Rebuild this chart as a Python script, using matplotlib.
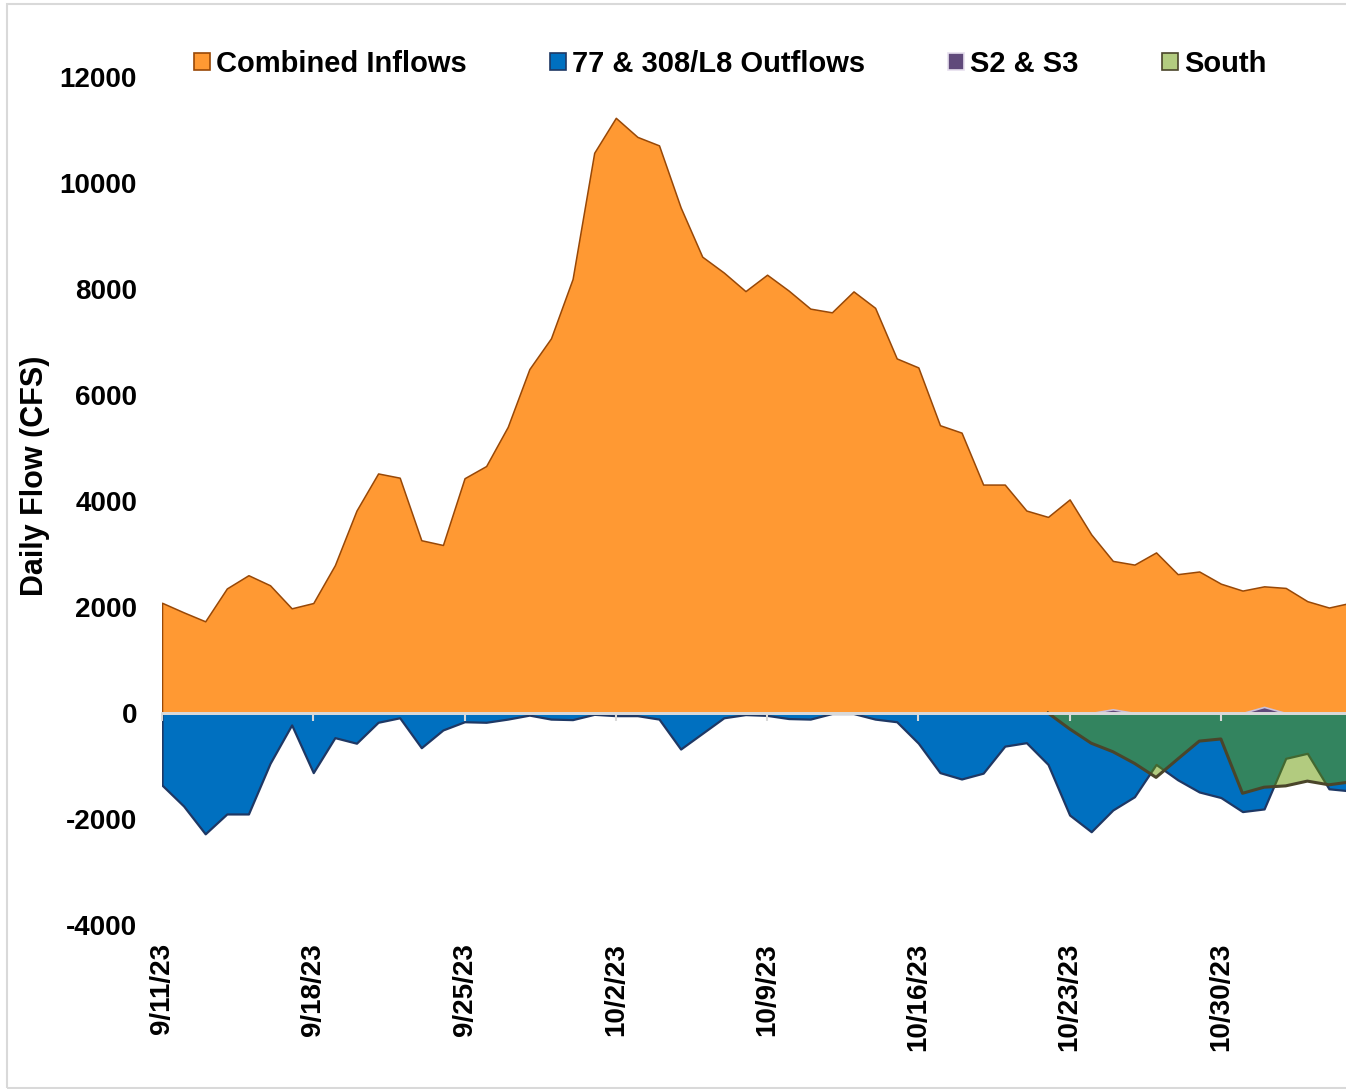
import matplotlib
matplotlib.use("Agg")
import matplotlib.pyplot as plt
from matplotlib.patches import Patch, Rectangle
import numpy as np
import pandas as pd

plt.rcParams['font.family'] = ['Liberation Sans', 'DejaVu Sans']
plt.rcParams['font.weight'] = 'bold'

# daily series, 9/11/23 .. 11/5/23
dates = pd.date_range('2023-09-11', '2023-11-05', freq='D')
inflows = [2080, 1900, 1730, 2350, 2600, 2410, 1975, 2075, 2790, 3820,
           4520, 4440, 3260, 3170, 4430, 4660, 5400, 6490, 7070, 8190,
           10570, 11230, 10870, 10710, 9540, 8610, 8310, 7960, 8270, 7970,
           7630, 7560, 7955, 7645, 6690, 6520, 5430, 5290, 4310, 4310,
           3820, 3700, 4030, 3370, 2870, 2800, 3030, 2620, 2670, 2440,
           2310, 2390, 2360, 2110, 1990, 2080]
outflows = [-1360, -1755, -2280, -1905, -1905, -950, -225, -1125, -465, -570,
            -175, -90, -655, -320, -165, -175, -115, -40, -115, -125,
            -25, -50, -50, -115, -680, -385, -90, -30, -45, -105,
            -115, -10, -10, -115, -165, -570, -1125, -1245, -1135, -625,
            -560, -970, -1925, -2240, -1830, -1580, -970, -1260, -1490, -1595,
            -1860, -1810, -855, -760, -1430, -1470]
s2_s3 = [0] * 44 + [70] + [0] * 6 + [115] + [0] * 4
south = [0] * 42 + [-300, -570, -730, -950, -1215, -870, -530, -490,
                    -1515, -1400, -1375, -1285, -1355, -1300]

yticks = np.arange(-4000, 12001, 2000)

days = np.asarray((dates - dates[0]).days, dtype=float)
tick_days = days[::7][:8]
tick_labels = [f"{d.month}/{d.day}/{d:%y}" for d in dates[::7][:8]]

# the South outline only starts where the series leaves zero
south_arr = np.array(south, dtype=float)
first = max(int(np.argmax(south_arr != 0)) - 1, 0)

W, H = 1346, 1089
fig = plt.figure(figsize=(W / 100, H / 100), dpi=100)
ax = fig.add_axes([162 / W, 1 - 925 / H, 1 - 162 / W, (925 - 77) / H])

ax.fill_between(days, 0, inflows, facecolor='#FF9933', edgecolor='#984807',
                linewidth=1.1, zorder=1)
ax.fill_between(days, 0, outflows, facecolor='#0070C0', edgecolor='#1F3864',
                linewidth=1.6, zorder=2)
ax.fill_between(days, 0, s2_s3, facecolor='#604A7B', edgecolor='#CCC1DA',
                linewidth=1.2, zorder=3)
ax.fill_between(days, 0, south, facecolor=(0.4, 0.6, 0.0, 0.5), edgecolor='none',
                zorder=4)
ax.plot(days[first:], south_arr[first:], color='#4A452A', linewidth=2.2, zorder=5)
ax.axhline(0, color='#D9D9D9', linewidth=2, zorder=10)

ax.set_xlim(0, 54.79)
ax.set_ylim(-4000, 12000)
ax.set_yticks(yticks)
ax.set_yticklabels([str(v) for v in yticks])
ax.set_xticks(tick_days)
ax.set_xticklabels(tick_labels, rotation=90)
ax.tick_params(axis='both', length=0, labelsize=20)
ax.tick_params(axis='y', pad=18)
ax.tick_params(axis='x', pad=13)
for s in ax.spines.values():
    s.set_visible(False)
ax.patch.set_visible(False)

ax.set_ylabel('Daily Flow (CFS)', fontsize=22, fontweight='bold')
ax.yaxis.set_label_coords(-0.095, 0.5295)

# weekly tick marks hanging from the zero line
sec = ax.secondary_xaxis(0, transform=ax.transData)
sec.set_xticks(tick_days)
sec.tick_params(axis='x', labelbottom=False, length=6, width=1.5,
                color='#D9D9D9', direction='out')
sec.spines['bottom'].set_color('#D9D9D9')
sec.spines['bottom'].set_linewidth(2)
sec.set_zorder(11)

handles = [Patch(facecolor='#FF9933', edgecolor='#984807', linewidth=1.2),
           Patch(facecolor='#0070C0', edgecolor='#1F3864', linewidth=1.2),
           Patch(facecolor='#604A7B', edgecolor='#E6DFEE', linewidth=1.2),
           Patch(facecolor='#B3CC80', edgecolor='#4A452A', linewidth=1.2)]
names = ['Combined Inflows', '77 & 308/L8 Outflows', 'S2 & S3', 'South']
fig.legend(handles, names, loc='center left', bbox_to_anchor=(194 / W, 1 - 64 / H),
           ncol=4, frameon=False, borderpad=0, borderaxespad=0,
           handlelength=0.55, handleheight=0.55, handletextpad=0.2,
           columnspacing=2.86, prop={'size': 21, 'weight': 'bold'})

fig.add_artist(Rectangle((7 / W, 1 / H), 1.0, 1 - 5 / H, transform=fig.transFigure,
                         fill=False, edgecolor='#D9D9D9', linewidth=1.5))

fig.savefig('out.png', dpi=100)
